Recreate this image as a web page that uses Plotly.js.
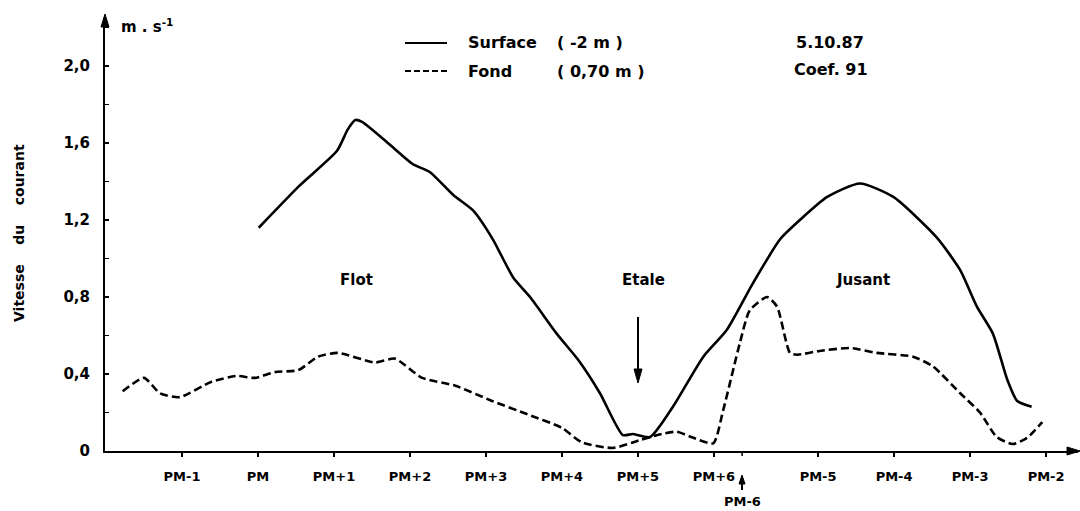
<!DOCTYPE html>
<html>
<head>
<meta charset="utf-8">
<script src="https://cdn.plot.ly/plotly-3.0.1.min.js"></script>
<style>
  html, body { margin: 0; padding: 0; background: #fff; }
  #chart { width: 1080px; height: 511px; }
</style>
</head>
<body>
<div id="chart"></div>
<script>
// Time in hours relative to high water (PM = 0)
const surfaceHours = [0.01, 0.55, 1.04, 1.18, 1.28, 1.37, 1.74, 2.04, 2.26, 2.57, 2.83, 3.09, 3.36, 3.58, 3.93, 4.22, 4.50, 4.80, 4.93, 5.16, 5.46, 5.86, 6.17, 6.51, 6.87, 7.13, 7.49, 7.92, 8.36, 8.93, 9.24, 9.46, 9.67, 9.86, 9.99, 10.18];
const surfaceSpeed = [1.16, 1.38, 1.56, 1.67, 1.72, 1.71, 1.59, 1.49, 1.45, 1.33, 1.25, 1.10, 0.90, 0.80, 0.61, 0.47, 0.30, 0.083, 0.088, 0.073, 0.23, 0.49, 0.63, 0.87, 1.10, 1.20, 1.32, 1.39, 1.32, 1.11, 0.94, 0.75, 0.61, 0.37, 0.26, 0.23];

const fondHours = [-1.78, -1.50, -1.29, -1.03, -0.61, -0.28, -0.04, 0.22, 0.53, 0.79, 1.05, 1.54, 1.80, 2.16, 2.59, 3.08, 3.55, 4.00, 4.26, 4.67, 5.03, 5.33, 5.51, 5.72, 5.99, 6.12, 6.34, 6.47, 6.70, 6.83, 7.00, 7.09, 7.39, 7.79, 8.14, 8.62, 8.88, 9.24, 9.50, 9.72, 9.93, 10.12, 10.32];
const fondSpeed = [0.31, 0.38, 0.30, 0.28, 0.36, 0.39, 0.38, 0.41, 0.42, 0.49, 0.51, 0.46, 0.48, 0.38, 0.34, 0.26, 0.19, 0.12, 0.045, 0.016, 0.057, 0.09, 0.10, 0.07, 0.04, 0.21, 0.56, 0.73, 0.80, 0.75, 0.51, 0.50, 0.52, 0.535, 0.51, 0.49, 0.44, 0.30, 0.20, 0.073, 0.036, 0.068, 0.15];

const xTickVals = [-1, 0, 1, 2, 3, 4, 5, 6, 7.37, 8.37, 9.37, 10.37];
const xTickText = ['PM-1', 'PM', 'PM+1', 'PM+2', 'PM+3', 'PM+4', 'PM+5', 'PM+6', 'PM-5', 'PM-4', 'PM-3', 'PM-2'];
const pm6Hour = 6.37;
const yTickVals = [0, 0.4, 0.8, 1.2, 1.6, 2.0];
const yTickText = ['0', '0,4', '0,8', '1,2', '1,6', '2,0'];

const FONT = 'DejaVu Sans, Verdana, sans-serif';
const bold = (size) => ({ family: FONT, size: size, color: '#000', weight: 'bold' });

const traces = [
  { x: surfaceHours, y: surfaceSpeed, type: 'scatter', mode: 'lines', name: 'Surface',
    line: { color: '#000', width: 2.6, shape: 'spline', smoothing: 0.6 }, hoverinfo: 'skip' },
  { x: fondHours, y: fondSpeed, type: 'scatter', mode: 'lines', name: 'Fond',
    line: { color: '#000', width: 2.6, dash: '8px,4px', shape: 'spline', smoothing: 0.6 }, hoverinfo: 'skip' }
];

// pixel -> paper helpers (plot area: x 105..1078, y 18..451)
const px = (p) => (p - 105) / 973;
const py = (p) => (451 - p) / 433;
const tri = (pts) => 'M ' + pts.map(([a, b]) => px(a) + ' ' + py(b)).join(' L ') + ' Z';
const filled = (pts) => ({ type: 'path', xref: 'paper', yref: 'paper', path: tri(pts),
  fillcolor: '#000', line: { color: '#000', width: 1 } });
const seg = (x0, y0, x1, y1, w) => ({ type: 'line', xref: 'paper', yref: 'paper',
  x0: px(x0), y0: py(y0), x1: px(x1), y1: py(y1), line: { color: '#000', width: w } });

const layout = {
  width: 1080, height: 511,
  margin: { l: 105, r: 2, t: 18, b: 60, pad: 0 },
  paper_bgcolor: '#fff', plot_bgcolor: '#fff',
  showlegend: false,
  font: bold(14),
  xaxis: {
    range: [-2.013, 10.79], showgrid: false, zeroline: false,
    showline: true, linecolor: '#000', linewidth: 2,
    tickmode: 'array', tickvals: xTickVals, ticktext: xTickText,
    ticks: 'outside', ticklen: 4, tickwidth: 1.5, tickcolor: '#000',
    ticklabelstandoff: 8, tickfont: bold(13)
  },
  yaxis: {
    range: [0, 2.25], showgrid: false, zeroline: false,
    showline: true, linecolor: '#000', linewidth: 2,
    tickmode: 'array', tickvals: yTickVals, ticktext: yTickText,
    ticks: 'inside', ticklen: 4, tickwidth: 1.5, tickcolor: '#000',
    minor: { tick0: 0, dtick: 0.2, ticks: 'inside', ticklen: 4, tickwidth: 1.5, tickcolor: '#000', showgrid: false },
    ticklabelstandoff: 10, tickfont: bold(15)
  },
  shapes: [
    // legend samples
    seg(405, 43, 447, 43, 2),
    { type: 'line', xref: 'paper', yref: 'paper', x0: px(405), x1: px(447), y0: py(71), y1: py(71),
      line: { color: '#000', width: 2, dash: '6px,3px' } },
    // axis arrowheads
    filled([[105, 14], [101, 27], [109, 27]]),
    filled([[1080, 451], [1067, 447], [1067, 455]]),
    // PM-6 tick on the time axis
    { type: 'line', xref: 'x', yref: 'paper', x0: pm6Hour, x1: pm6Hour, y0: 0, y1: py(456),
      line: { color: '#000', width: 1.5 } },
    // Etale arrow
    seg(638, 317, 638, 372, 2),
    filled([[638, 383], [634, 369], [642, 369]]),
    // PM-6 marker arrow
    seg(742, 481, 742, 490, 2),
    filled([[742, 475], [739, 484], [745, 484]])
  ],
  annotations: [
    // unit
    { xref: 'paper', yref: 'paper', x: px(119), y: py(26), xanchor: 'left', yanchor: 'middle',
      text: 'm . s<sup>-1</sup>', showarrow: false, font: bold(15) },
    // y title
    { xref: 'paper', yref: 'paper', x: px(19), y: py(233), xanchor: 'center', yanchor: 'middle',
      textangle: -90, text: 'Vitesse\u00A0\u00A0\u00A0\u00A0du\u00A0\u00A0\u00A0\u00A0courant', showarrow: false, font: bold(14) },
    // legend texts
    { xref: 'paper', yref: 'paper', x: px(466), y: py(43), xanchor: 'left', yanchor: 'middle',
      text: 'Surface', showarrow: false, font: bold(16) },
    { xref: 'paper', yref: 'paper', x: px(555), y: py(43), xanchor: 'left', yanchor: 'middle',
      text: '( -2 m )', showarrow: false, font: bold(16) },
    { xref: 'paper', yref: 'paper', x: px(466), y: py(71), xanchor: 'left', yanchor: 'middle',
      text: 'Fond', showarrow: false, font: bold(16) },
    { xref: 'paper', yref: 'paper', x: px(555), y: py(71), xanchor: 'left', yanchor: 'middle',
      text: '( 0,70 m )', showarrow: false, font: bold(16) },
    { xref: 'paper', yref: 'paper', x: px(794), y: py(43), xanchor: 'left', yanchor: 'middle',
      text: '5.10.87', showarrow: false, font: bold(16) },
    { xref: 'paper', yref: 'paper', x: px(792), y: py(70), xanchor: 'left', yanchor: 'middle',
      text: 'Coef. 91', showarrow: false, font: bold(16) },
    // phase labels
    { x: 1.30, y: 0.89, xref: 'x', yref: 'y', text: 'Flot', showarrow: false, font: bold(15) },
    { x: 5.07, y: 0.89, xref: 'x', yref: 'y', text: 'Etale', showarrow: false, font: bold(15) },
    { x: 7.96, y: 0.89, xref: 'x', yref: 'y', text: 'Jusant', showarrow: false, font: bold(15) },
    // PM-6 label
    { x: pm6Hour, y: 0, xref: 'x', yref: 'paper', yshift: -41, yanchor: 'top', xanchor: 'center',
      text: 'PM-6', showarrow: false, font: bold(13) }
  ]
};

Plotly.newPlot('chart', traces, layout, { staticPlot: true, displayModeBar: false });
</script>
</body>
</html>
